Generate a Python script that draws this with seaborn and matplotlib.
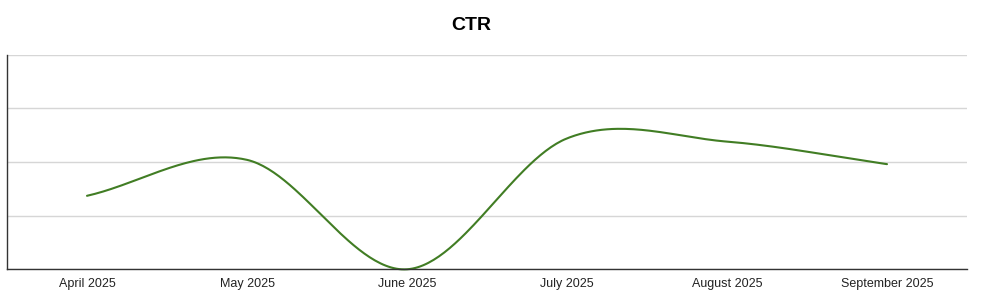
import numpy as np
import pandas as pd
import matplotlib
matplotlib.use("Agg")
import matplotlib.pyplot as plt
import seaborn as sns

months = ["April 2025", "May 2025", "June 2025", "July 2025", "August 2025", "September 2025"]
ctr = [1.37, 2.04, 0.0, 2.44, 2.38, 1.96]
y_ticks = [0, 1, 2, 3, 4]

sns.set_theme(style="white")
plt.rcParams["font.family"] = ["Liberation Sans", "DejaVu Sans"]


def smooth_curve(vals, n=60):
    """Cubic Hermite smoothing (Catmull-Rom tangents, chord tangents at the ends)."""
    v = np.asarray(vals, dtype=float)
    k = len(v)
    m = np.zeros(k)
    m[0] = v[1] - v[0]
    m[-1] = v[-1] - v[-2]
    for i in range(1, k - 1):
        m[i] = (v[i + 1] - v[i - 1]) / 2.0
    xs, ys = [], []
    for i in range(k - 1):
        t = np.linspace(0, 1, n, endpoint=(i == k - 2))
        h00 = 2 * t**3 - 3 * t**2 + 1
        h10 = t**3 - 2 * t**2 + t
        h01 = -2 * t**3 + 3 * t**2
        h11 = t**3 - t**2
        ys.append(h00 * v[i] + h10 * m[i] + h01 * v[i + 1] + h11 * m[i + 1])
        xs.append(i + t)
    return np.concatenate(xs), np.concatenate(ys)


sx, sy = smooth_curve(ctr)
df = pd.DataFrame({"pos": sx, "CTR": sy})

fig = plt.figure(figsize=(9.83, 3.03), dpi=100)
ax = fig.add_axes([7 / 983, (303 - 269.3) / 303, 960 / 983, (269.3 - 54.7) / 303])

sns.lineplot(data=df, x="pos", y="CTR", ax=ax, color="#417d24", linewidth=1.5,
             estimator=None, sort=False, clip_on=False, zorder=3)

ax.set_xlim(-0.5, len(months) - 0.5)
ax.set_ylim(y_ticks[0], y_ticks[-1])
ax.set_yticks(y_ticks)
ax.set_yticklabels([])
ax.set_xticks(range(len(months)))
ax.set_xticklabels(months, fontsize=9, color="#222222")
ax.tick_params(axis="x", length=0, pad=6)
ax.tick_params(axis="y", length=0)
ax.set_xlabel("")
ax.set_ylabel("")
ax.grid(axis="y", color="#d6d6d6", linewidth=1.0)
ax.grid(axis="x", visible=False)
for s in ["top", "right"]:
    ax.spines[s].set_visible(False)
for s in ["left", "bottom"]:
    ax.spines[s].set_color("#333333")
    ax.spines[s].set_linewidth(1.0)
    ax.spines[s].set_zorder(4)

fig.text(471 / 983, 1 - 26 / 303, "CTR", ha="center", va="center",
         fontsize=14, fontweight="bold", color="#000000")

fig.savefig("out.png", dpi=100, facecolor="white")
